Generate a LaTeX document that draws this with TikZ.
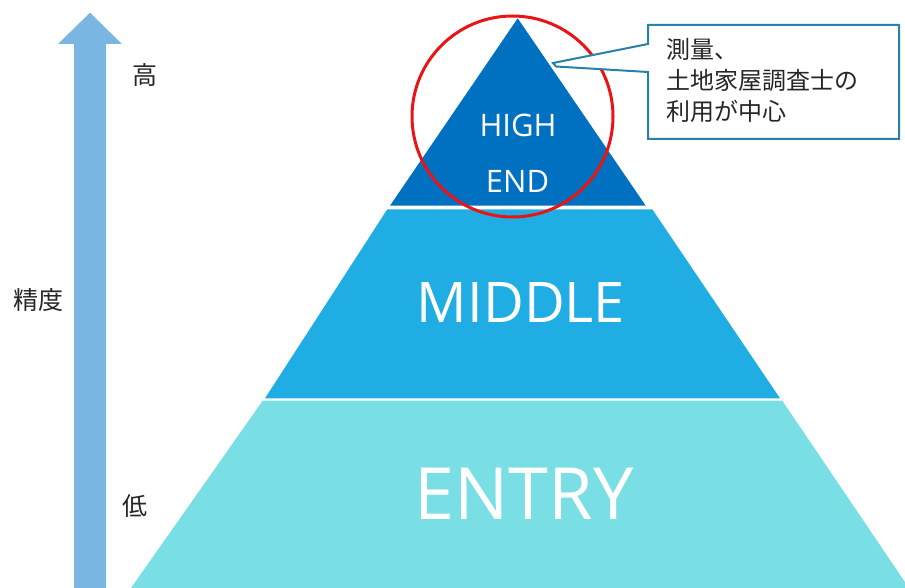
\documentclass[tikz,border=0pt]{standalone}
\usepackage{fontspec}
\setmainfont{Open Sans}
\newfontfamily\jpfont{Noto Sans CJK JP}
\definecolor{topblue}{RGB}{0,112,192}
\definecolor{midblue}{RGB}{31,173,228}
\definecolor{entrycyan}{RGB}{122,223,229}
\definecolor{arrowblue}{RGB}{122,182,226}
\definecolor{calloutline}{RGB}{40,130,168}
\definecolor{jptext}{RGB}{38,38,38}
\tikzset{
  layertext/.style={text=white, inner sep=0pt, anchor=base},
  jplabel/.style={text=jptext, inner sep=0pt, font=\jpfont\fontsize{25}{25}\selectfont},
}
\begin{document}
\begin{tikzpicture}[x=1pt,y=-1pt]
\useasboundingbox (0,0) rectangle (905,588);
\clip (0,0) rectangle (905,588);
% arrow
\fill[arrowblue] (74,588) -- (74,44) -- (58,44) -- (90,12.7) -- (122,44) -- (106,44) -- (106,588) -- cycle;
\node[jplabel] (high) at (144.5,74.5) {高};
\node[jplabel] (acc) at (38,300.5) {精度};
\node[jplabel] (low) at (134.5,506.5) {低};
% pyramid layers
\fill[entrycyan] (262.7,400.7) -- (782.3,400.7) -- (909,588) -- (131,588) -- cycle;
\fill[midblue] (387.3,209.3) -- (652.3,209.3) -- (780,398.3) -- (265,398.3) -- cycle;
\fill[topblue] (517.7,18.3) -- (645.7,205.7) -- (390,205.7) -- cycle;
\node[layertext, font=\fontsize{31}{31}\selectfont] (hightxt) at (518,137) {HIGH};
\node[layertext, font=\fontsize{31}{31}\selectfont] (endtxt) at (517.5,193) {END};
\node[layertext, font=\fontsize{56}{56}\selectfont] (midtxt) at (521,322) {MIDDLE};
\node[layertext, font=\fontsize{72}{72}\selectfont] (entrytxt) at (524,519) {ENTRY};
% red circle
\node[draw={rgb,255:red,235;green,20;blue,20}, line width=3pt, circle, minimum size=201pt, inner sep=0pt] (ring) at (512.5,116.5) {};
% callout
\coordinate (tipa) at (553,63);
\coordinate (tipb) at (556,66.5);
\draw[calloutline, line width=2pt, fill=white, line join=miter]
  (648,25) -- (899,25) -- (899,139) -- (648,139) -- (648,72) -- (tipb) -- (tipa) -- (648,44) -- cycle;
\node[text=jptext, inner sep=0pt, anchor=west, align=left, font=\jpfont\fontsize{24}{31}\selectfont] (note) at (666,80) {測量、\\土地家屋調査士の\\利用が中心};
\end{tikzpicture}
\end{document}
